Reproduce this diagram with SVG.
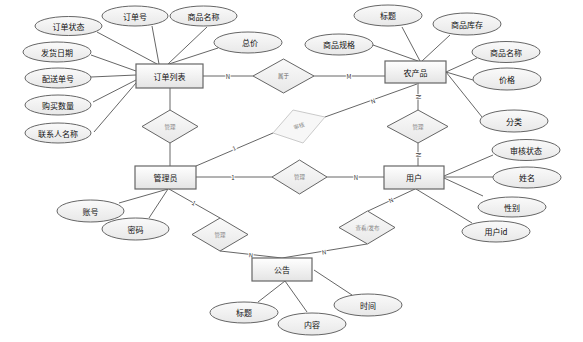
<svg xmlns="http://www.w3.org/2000/svg" width="583" height="342" viewBox="0 0 583 342">
<defs>
<linearGradient id="gr" x1="0" y1="0" x2="0" y2="1"><stop offset="0" stop-color="#ffffff"/><stop offset="1" stop-color="#e4e4e4"/></linearGradient>
<linearGradient id="ge" x1="0" y1="0" x2="0" y2="1"><stop offset="0" stop-color="#fafafa"/><stop offset="1" stop-color="#e8e8e8"/></linearGradient>
</defs>
<style>
text{font-family:"Noto Sans CJK SC","Liberation Sans",sans-serif;text-anchor:middle;dominant-baseline:central}
.ent{fill:url(#gr);stroke:#666;stroke-width:1.2}
.att{fill:url(#ge);stroke:#555;stroke-width:0.9}
.rel{fill:url(#ge);stroke:#555;stroke-width:0.9}
.rel2{fill:#f7f7f7;stroke:#c4c4c4;stroke-width:0.9}
.t{font-size:8px;fill:#111}
.rt{font-size:5.5px;fill:#888}
.lb{font-size:6px;fill:#333;stroke:#fff;stroke-width:2;paint-order:stroke}
#connectors line{stroke:#555;stroke-width:0.9}
</style>
<g id="connectors">
<line x1="97" y1="32" x2="157" y2="64"/>
<line x1="152" y1="26" x2="159" y2="64"/>
<line x1="207" y1="27" x2="168" y2="64"/>
<line x1="218" y1="48" x2="169" y2="64"/>
<line x1="91" y1="55" x2="136" y2="71"/>
<line x1="91" y1="77" x2="136" y2="75"/>
<line x1="93" y1="102" x2="136" y2="80"/>
<line x1="94" y1="132" x2="136" y2="83"/>
<line x1="203" y1="76" x2="253" y2="76"/>
<line x1="314" y1="76" x2="385" y2="76"/>
<line x1="170" y1="88" x2="170" y2="110"/>
<line x1="170" y1="143" x2="170" y2="166"/>
<line x1="402" y1="27" x2="420" y2="61"/>
<line x1="450" y1="35" x2="422" y2="61"/>
<line x1="373" y1="45" x2="418" y2="61"/>
<line x1="477" y1="58" x2="446" y2="72"/>
<line x1="473" y1="80" x2="446" y2="72"/>
<line x1="482" y1="117" x2="446" y2="72"/>
<line x1="196" y1="166" x2="273" y2="133"/>
<line x1="325" y1="117" x2="417" y2="84"/>
<line x1="418" y1="83" x2="418" y2="110"/>
<line x1="418" y1="143" x2="418" y2="166"/>
<line x1="196" y1="177" x2="272" y2="177"/>
<line x1="327" y1="177" x2="384" y2="177"/>
<line x1="493" y1="155" x2="444" y2="176"/>
<line x1="493" y1="177" x2="444" y2="177"/>
<line x1="483" y1="196" x2="444" y2="178"/>
<line x1="472" y1="223" x2="416" y2="189"/>
<line x1="119" y1="203" x2="168" y2="189"/>
<line x1="149" y1="218" x2="168" y2="189"/>
<line x1="169" y1="189" x2="220" y2="218"/>
<line x1="220" y1="251" x2="282" y2="258"/>
<line x1="415" y1="189" x2="368" y2="211"/>
<line x1="367" y1="244" x2="282" y2="258"/>
<line x1="258" y1="302" x2="285" y2="281"/>
<line x1="307" y1="312" x2="285" y2="281"/>
<line x1="352" y1="295" x2="314" y2="270"/>
<text class="lb" x="228" y="76">N</text>
<text class="lb" x="349" y="76">M</text>
<text class="lb" x="234" y="148" transform="rotate(-23 234 148)">1</text>
<text class="lb" x="373" y="101" transform="rotate(-20 373 101)">N</text>
<text class="lb" x="418" y="97" transform="rotate(90 418 97)">N</text>
<text class="lb" x="418" y="155" transform="rotate(90 418 155)">N</text>
<text class="lb" x="233" y="177">1</text>
<text class="lb" x="356" y="177">N</text>
<text class="lb" x="194" y="203" transform="rotate(30 194 203)">1</text>
<text class="lb" x="251" y="255" transform="rotate(6 251 255)">N</text>
<text class="lb" x="391" y="200" transform="rotate(-25 391 200)">N</text>
<text class="lb" x="324" y="252" transform="rotate(-9 324 252)">N</text>
</g>
<g id="e-order"><rect class="ent" x="136" y="64" width="67" height="24"/><text class="t" x="169.5" y="76">订单列表</text></g>
<g id="e-product"><rect class="ent" x="385" y="61" width="61" height="22"/><text class="t" x="415.5" y="72">农产品</text></g>
<g id="e-admin"><rect class="ent" x="135" y="166" width="61" height="23"/><text class="t" x="165.5" y="177.5">管理员</text></g>
<g id="e-user"><rect class="ent" x="384" y="166" width="60" height="23"/><text class="t" x="414" y="177.5">用户</text></g>
<g id="e-notice"><rect class="ent" x="252" y="258" width="60" height="23"/><text class="t" x="282" y="269.5">公告</text></g>
<g id="r-belong"><polygon class="rel" points="253,76 283.5,59 314,76 283.5,93"/><text class="rt" x="283.5" y="76" style="fill:#666">属于</text></g>
<g id="r-manage1"><polygon class="rel" points="142,126.5 170,110 198,126.5 170,143"/><text class="rt" x="170" y="126.5">管理</text></g>
<g id="r-audit"><polygon class="rel2" points="273,133 293,110 325,117 303,143"/><text class="rt" x="299" y="126" transform="rotate(-20 299 126)">审核</text></g>
<g id="r-manage2"><polygon class="rel" points="272,177 299.5,160 327,177 299.5,194"/><text class="rt" x="299.5" y="177">管理</text></g>
<g id="r-manage3"><polygon class="rel" points="387,126.5 418,110 448,126.5 418,143"/><text class="rt" x="418" y="126.5">管理</text></g>
<g id="r-manage4"><polygon class="rel" points="192,234.5 220,218 248,234.5 220,251"/><text class="rt" x="220" y="234.5">管理</text></g>
<g id="r-view"><polygon class="rel" points="339,227.5 367.5,211 395,227.5 367.5,244"/><text class="rt" x="367.5" y="227.5">查看/发布</text></g>
<g id="a-order-status"><ellipse class="att" cx="68.5" cy="26" rx="33.5" ry="9.5"/><text class="t" x="68.5" y="26">订单状态</text></g>
<g id="a-order-no"><ellipse class="att" cx="135" cy="16" rx="33" ry="10"/><text class="t" x="135" y="16">订单号</text></g>
<g id="a-order-name"><ellipse class="att" cx="203.5" cy="16" rx="33.5" ry="10"/><text class="t" x="203.5" y="16">商品名称</text></g>
<g id="a-order-total"><ellipse class="att" cx="248" cy="42.5" rx="34" ry="10.5"/><text class="t" x="250" y="42.5">总价</text></g>
<g id="a-ship-date"><ellipse class="att" cx="57" cy="52" rx="34" ry="10"/><text class="t" x="57" y="52">发货日期</text></g>
<g id="a-ship-no"><ellipse class="att" cx="58" cy="78" rx="33" ry="10"/><text class="t" x="58" y="78">配送单号</text></g>
<g id="a-qty"><ellipse class="att" cx="58" cy="105" rx="33" ry="10"/><text class="t" x="58" y="105">购买数量</text></g>
<g id="a-contact"><ellipse class="att" cx="58" cy="133" rx="33" ry="10"/><text class="t" x="58" y="133">联系人名称</text></g>
<g id="a-p-title"><ellipse class="att" cx="388" cy="15.5" rx="34" ry="10.5"/><text class="t" x="388" y="15.5">标题</text></g>
<g id="a-p-stock"><ellipse class="att" cx="467" cy="24" rx="34" ry="11"/><text class="t" x="467" y="24">商品库存</text></g>
<g id="a-p-spec"><ellipse class="att" cx="339" cy="44.5" rx="34" ry="10.5"/><text class="t" x="339" y="44.5">商品规格</text></g>
<g id="a-p-name"><ellipse class="att" cx="506" cy="52" rx="34" ry="10.5"/><text class="t" x="506" y="52">商品名称</text></g>
<g id="a-p-price"><ellipse class="att" cx="507" cy="79" rx="34" ry="11"/><text class="t" x="507" y="79">价格</text></g>
<g id="a-p-cat"><ellipse class="att" cx="514" cy="121" rx="34" ry="11"/><text class="t" x="514" y="121">分类</text></g>
<g id="a-u-audit"><ellipse class="att" cx="526" cy="150" rx="34" ry="10.5"/><text class="t" x="526" y="150">审核状态</text></g>
<g id="a-u-name"><ellipse class="att" cx="527" cy="177.5" rx="34" ry="10.5"/><text class="t" x="527" y="177.5">姓名</text></g>
<g id="a-u-sex"><ellipse class="att" cx="512" cy="207" rx="34" ry="10"/><text class="t" x="512" y="207">性别</text></g>
<g id="a-u-id"><ellipse class="att" cx="496" cy="231.5" rx="34" ry="10.5"/><text class="t" x="496" y="231.5">用户id</text></g>
<g id="a-ad-acc"><ellipse class="att" cx="90.5" cy="211" rx="33.5" ry="11"/><text class="t" x="90.5" y="211">账号</text></g>
<g id="a-ad-pwd"><ellipse class="att" cx="135.5" cy="229" rx="33.5" ry="11"/><text class="t" x="135.5" y="229">密码</text></g>
<g id="a-n-title"><ellipse class="att" cx="244" cy="312.5" rx="34" ry="10.5"/><text class="t" x="244" y="312.5">标题</text></g>
<g id="a-n-content"><ellipse class="att" cx="312" cy="324" rx="34" ry="11"/><text class="t" x="312" y="324">内容</text></g>
<g id="a-n-time"><ellipse class="att" cx="368" cy="305" rx="34" ry="11"/><text class="t" x="368" y="305">时间</text></g>
</svg>
